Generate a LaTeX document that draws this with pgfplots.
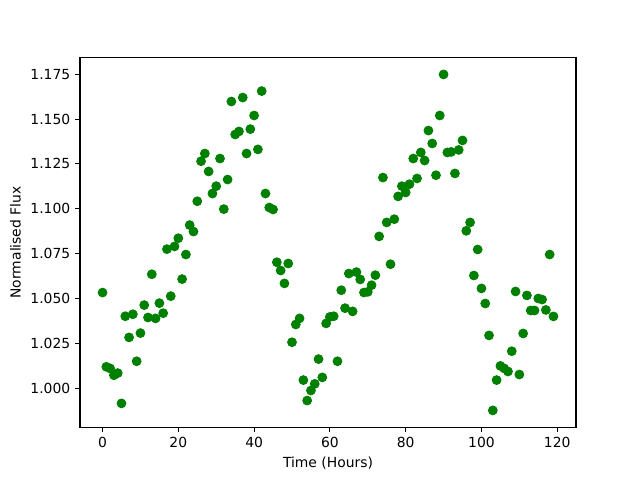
\documentclass[border=0pt]{standalone}
\usepackage{pgfplots}
\pgfplotsset{compat=1.18}
\usepackage{fontspec}
\setmainfont{DejaVu Sans}
\definecolor{mplgreen}{RGB}{0,128,0}
\begin{document}
\begin{tikzpicture}
\begin{axis}[
  scale only axis,
  width=357.1pt, height=266.1pt,
  xmin=-5.95, xmax=124.95,
  ymin=0.97824, ymax=1.18427,
  xtick={0,20,40,60,80,100,120},
  ytick={1.000,1.025,1.050,1.075,1.100,1.125,1.150,1.175},
  scaled y ticks=false,
  yticklabel style={/pgf/number format/.cd,fixed,fixed zerofill,precision=3},
  /pgf/number format/assume math mode=true,
  tick align=outside,
  major tick length=3.5pt,
  xtick pos=lower, ytick pos=left,
  tick label style={font=\fontsize{10}{12}\selectfont},
  label style={font=\fontsize{10}{12}\selectfont},
  xlabel={Time (Hours)},
  ylabel={Normalised Flux},
  axis line style={line width=0.8pt},
  every tick/.style={line width=0.8pt, black},
]
\addplot[only marks, mark=*, mark size=3.2pt, color=mplgreen, mark options={fill=mplgreen, draw=mplgreen, line width=0.6pt}] coordinates {
(0,1.0533)(1,1.0119)(2,1.0110)(3,1.0072)(4,1.0084)(5,0.9915)(6,1.0401)(7,1.0283)(8,1.0412)(9,1.0150)
(10,1.0307)(11,1.0463)(12,1.0394)(13,1.0635)(14,1.0389)(15,1.0474)(16,1.0418)(17,1.0775)(18,1.0513)(19,1.0790)
(20,1.0836)(21,1.0608)(22,1.0745)(23,1.0909)(24,1.0873)(25,1.1042)(26,1.1265)(27,1.1308)(28,1.1208)(29,1.1085)
(30,1.1126)(31,1.1280)(32,1.0998)(33,1.1163)(34,1.1598)(35,1.1414)(36,1.1431)(37,1.1620)(38,1.1308)(39,1.1444)
(40,1.1520)(41,1.1331)(42,1.1656)(43,1.1085)(44,1.1007)(45,1.0996)(46,1.0702)(47,1.0656)(48,1.0584)(49,1.0695)
(50,1.0256)(51,1.0355)(52,1.0389)(53,1.0045)(54,0.9931)(55,0.9987)(56,1.0024)(57,1.0162)(58,1.0060)(59,1.0361)
(60,1.0397)(61,1.0401)(62,1.0150)(63,1.0546)(64,1.0446)(65,1.0639)(66,1.0428)(67,1.0647)(68,1.0606)(69,1.0533)
(70,1.0537)(71,1.0574)(72,1.0630)(73,1.0846)(74,1.1174)(75,1.0924)(76,1.0691)(77,1.0942)(78,1.1069)(79,1.1126)
(80,1.1091)(81,1.1137)(82,1.1280)(83,1.1169)(84,1.1314)(85,1.1269)(86,1.1436)(87,1.1364)(88,1.1187)(89,1.1520)
(90,1.1749)(91,1.1314)(92,1.1317)(93,1.1197)(94,1.1328)(95,1.1381)(96,1.0877)(97,1.0924)(98,1.0628)(99,1.0773)
(100,1.0556)(101,1.0472)(102,1.0294)(103,0.9876)(104,1.0045)(105,1.0124)(106,1.0110)(107,1.0093)(108,1.0206)(109,1.0539)
(110,1.0076)(111,1.0305)(112,1.0517)(113,1.0433)(114,1.0433)(115,1.0500)(116,1.0494)(117,1.0436)(118,1.0745)(119,1.0400)
};
\end{axis}
\path ([shift={(-57.6pt,-38.02pt)}]current axis.south west) rectangle ([shift={(46.08pt,41.47pt)}]current axis.north east);
\end{tikzpicture}
\end{document}
